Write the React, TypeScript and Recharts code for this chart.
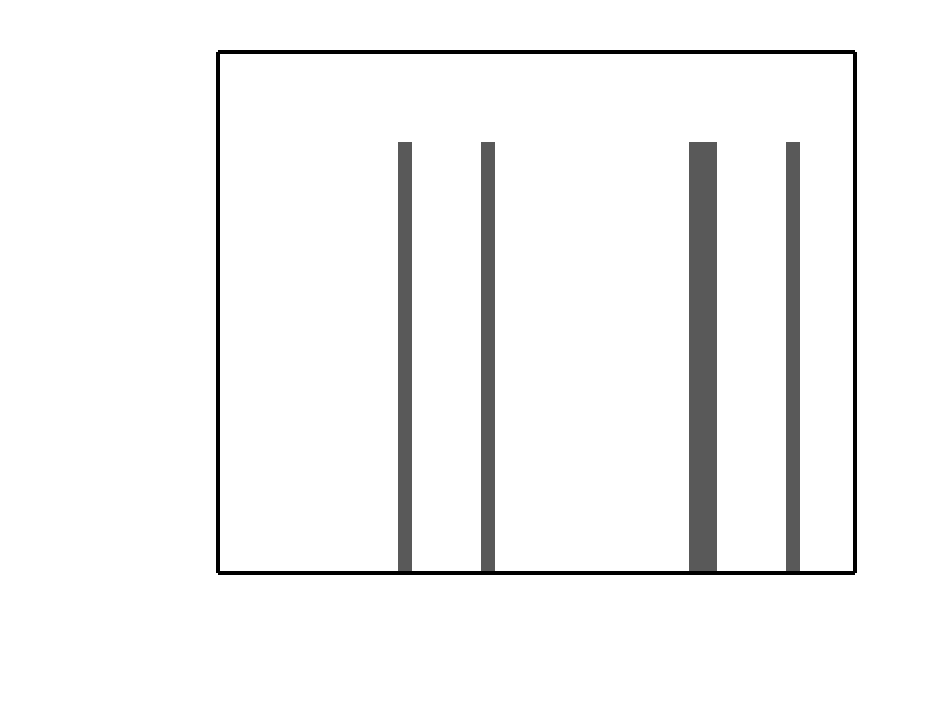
import React from 'react';
import { BarChart, Bar, XAxis, YAxis } from 'recharts';

const categories: string[] = Array.from({ length: 46 }, (_, i) => String(i + 1));
const values: number[] = [
  0, 0, 0, 0, 0, 0, 0, 0, 0, 0,
  0, 0, 0, 1, 0, 0, 0, 0, 0, 1,
  0, 0, 0, 0, 0, 0, 0, 0, 0, 0,
  0, 0, 0, 0, 1, 1, 0, 0, 0, 0,
  0, 1, 0, 0, 0, 0,
];

const data = categories.map((c, i) => ({ name: c, value: values[i] }));

const axisLine = { stroke: '#000', strokeWidth: 4 };

export default function App() {
  return (
    <BarChart
      width={929}
      height={693}
      data={data}
      margin={{ top: 43, left: 209, right: 81, bottom: 127 }}
      barCategoryGap={0}
      barGap={0}
    >
      <XAxis xAxisId="b" dataKey="name" orientation="bottom" height={1} tick={false} tickLine={false} axisLine={axisLine} />
      <XAxis xAxisId="t" dataKey="name" orientation="top" height={1} tick={false} tickLine={false} axisLine={axisLine} />
      <YAxis yAxisId="l" orientation="left" width={1} domain={[0, 1.21]} tick={false} tickLine={false} axisLine={axisLine} />
      <YAxis yAxisId="r" orientation="right" width={1} domain={[0, 1.21]} tick={false} tickLine={false} axisLine={axisLine} />
      <Bar xAxisId="b" yAxisId="l" dataKey="value" fill="#595959" shapeRendering="crispEdges" isAnimationActive={false} />
    </BarChart>
  );
}
